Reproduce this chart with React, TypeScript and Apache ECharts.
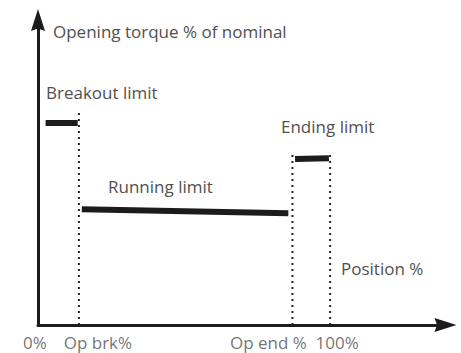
import React, { useEffect, useRef } from 'react';
import * as echarts from 'echarts';

// Chart data (x: position %, y: opening torque % of nominal)
const breakoutLimit = [[2.6, 101], [13.6, 101]];
const runningLimit = [[15.0, 57.9], [85.7, 55.9]];
const endingLimit = [[88.0, 83.0], [99.6, 83.4]];
const opBrkMarker = [[14.0, 0], [14.0, 106]];
const opEndMarker = [[87.1, 0], [87.1, 85.5]];
const fullMarker = [[100, 0], [100, 85.5]];
const tickLabels = ['0%', 'Op brk%', 'Op end %', '100%'];
const tickValues = [0, 14.0, 87.1, 100];
const limitNames = ['Breakout limit', 'Running limit', 'Ending limit'];
const yAxisTitle = 'Opening torque % of nominal';
const xAxisTitle = 'Position %';

const FONT = "'Open Sans', sans-serif";
const TEXT_COLOR = '#505050';
const INK = '#1c1c1c';
const tickLabelOffsets = [-3, 19, -24, 7];

export default function App() {
  const ref = useRef<HTMLDivElement>(null);
  useEffect(() => {
    if (!ref.current) return;
    const chart = echarts.init(ref.current, undefined, { renderer: 'svg' });
    const arrow = 'path://M7,0 L14,22 L7,19.5 L0,22 Z';
    const axisCommon = {
      axisLine: {
        show: true,
        symbol: ['none', arrow],
        symbolSize: [14, 23],
        lineStyle: { color: INK, width: 3 },
      },
      axisTick: { show: false },
      axisLabel: { show: false },
      splitLine: { show: false },
    };
    const thick = (data: number[][]) => ({
      type: 'line',
      data,
      symbol: 'none',
      lineStyle: { color: INK, width: 6, cap: 'butt' },
      clip: false,
      silent: true,
    });
    const dotted = (data: number[][]) => ({
      type: 'line',
      data,
      symbol: 'none',
      lineStyle: { color: '#222', width: 2, type: [2, 4], cap: 'butt' },
      clip: false,
      silent: true,
    });
    const txt = (text: string, x: number, y: number) => ({
      type: 'text',
      x,
      y,
      style: {
        text,
        fill: TEXT_COLOR,
        font: `17px ${FONT}`,
        textAlign: 'left',
        textVerticalAlign: 'middle',
      },
    });
    chart.setOption({
      animation: false,
      grid: { left: 38, right: 15.5, top: 20, bottom: 28, containLabel: false },
      xAxis: { type: 'value', min: 0, max: 139.5, ...axisCommon },
      yAxis: { type: 'value', min: 0, max: 152.5, ...axisCommon },
      series: [
        dotted(opBrkMarker),
        dotted(opEndMarker),
        dotted(fullMarker),
        thick(breakoutLimit),
        thick(runningLimit),
        thick(endingLimit),
        {
          type: 'scatter',
          symbolSize: 0,
          clip: false,
          silent: true,
          data: tickValues.map((v, i) => ({
            value: [v, 0],
            label: {
              show: true,
              formatter: tickLabels[i],
              position: 'inside',
              offset: [tickLabelOffsets[i], 17],
              align: 'center',
              verticalAlign: 'middle',
              color: TEXT_COLOR,
              fontSize: 17,
              fontFamily: FONT,
            },
          })),
        },
      ],
      graphic: [
        txt(yAxisTitle, 53, 31),
        txt(limitNames[0], 46, 92),
        txt(limitNames[1], 108, 186),
        txt(limitNames[2], 281, 126),
        txt(xAxisTitle, 341, 268),
      ],
    });
    return () => chart.dispose();
  }, []);
  return <div ref={ref} style={{ width: 461, height: 353, position: 'absolute', left: 0, top: 0 }} />;
}
